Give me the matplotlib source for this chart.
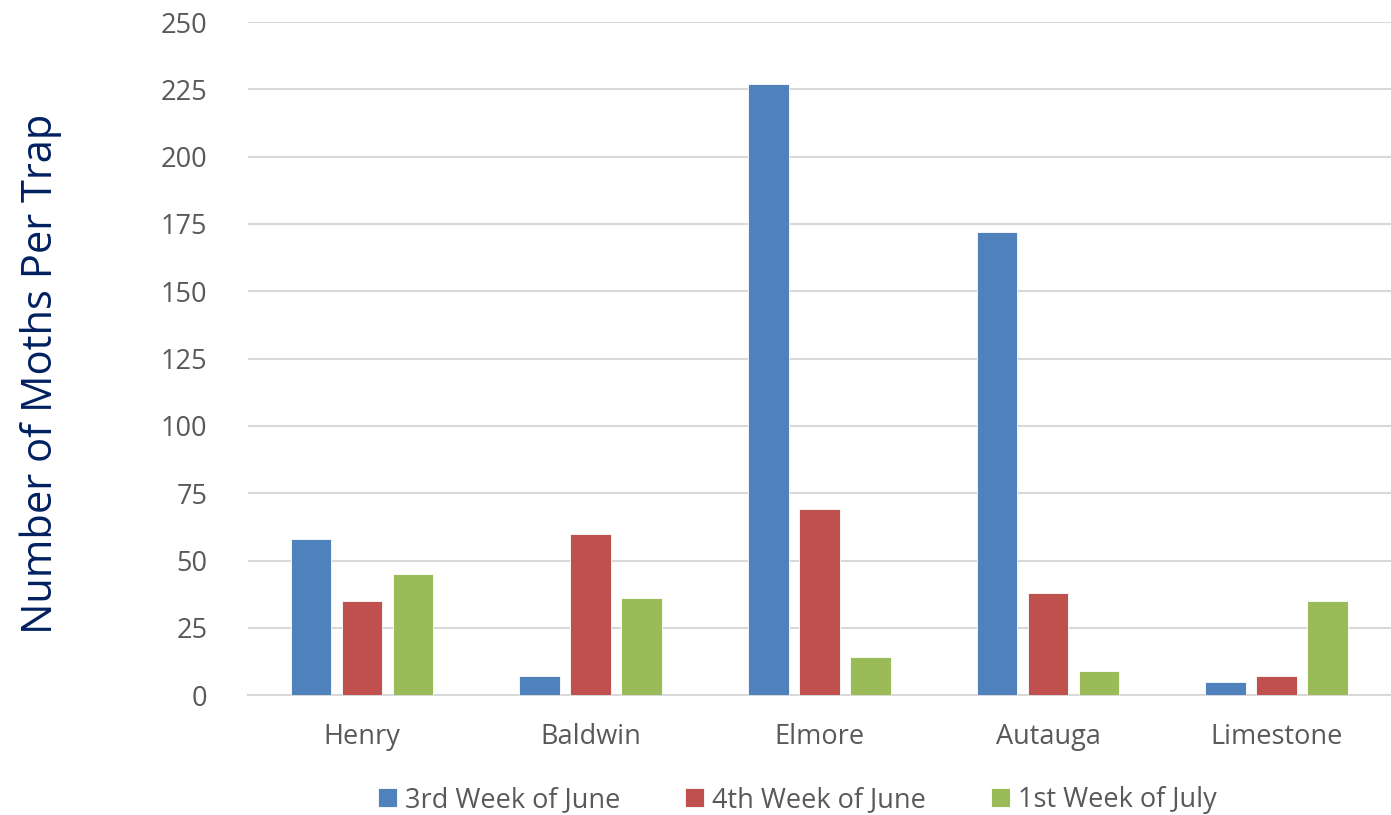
import matplotlib.pyplot as plt
import numpy as np

counties = ["Henry", "Baldwin", "Elmore", "Autauga", "Limestone"]
week3_june = [58, 7, 227, 172, 5]
week4_june = [35, 60, 69, 38, 7]
week1_july = [45, 36, 14, 9, 35]
series_names = ["3rd Week of June", "4th Week of June", "1st Week of July"]
colors = ["#4F81BD", "#C0504D", "#9BBB59"]

plt.rcParams['font.family'] = ['Open Sans', 'DejaVu Sans']

fig = plt.figure(figsize=(13.91, 8.15), dpi=100)
ax = fig.add_axes([0.178, 0.147, 0.822, 0.826])

x = np.arange(len(counties))
w = 0.178
step = 0.223
for i, (vals, name, c) in enumerate(zip([week3_june, week4_june, week1_july], series_names, colors)):
    ax.bar(x + (i - 1) * step, vals, width=w, color=c, label=name,
           edgecolor="white", linewidth=0.6, zorder=3)

ax.set_xlim(-0.5, len(counties) - 0.5)
ax.set_ylim(0, 250)
ax.set_yticks(range(0, 251, 25))
ax.set_xticks(x)
ax.set_xticklabels(counties)
ax.grid(axis="y", color="#D9D9D9", linewidth=1.5, zorder=0)
for s in ["top", "right", "left"]:
    ax.spines[s].set_visible(False)
ax.spines["bottom"].set_color("#D9D9D9")
ax.spines["bottom"].set_linewidth(1.5)
ax.tick_params(axis="both", length=0, labelsize=19.5, labelcolor="#595959")
ax.tick_params(axis="y", pad=29)
ax.tick_params(axis="x", pad=20)

ax.set_ylabel("Number of Moths Per Trap", fontsize=30, color="#002060")
ax.yaxis.set_label_coords(-0.162, 0.478)

ax.legend(loc="center", bbox_to_anchor=(0.481, -0.156), ncol=3, frameon=False,
          fontsize=19.5, labelcolor="#595959", handlelength=0.7, handleheight=0.7,
          handletextpad=0.3, columnspacing=2.4)

fig.savefig("out.png", dpi=100)
